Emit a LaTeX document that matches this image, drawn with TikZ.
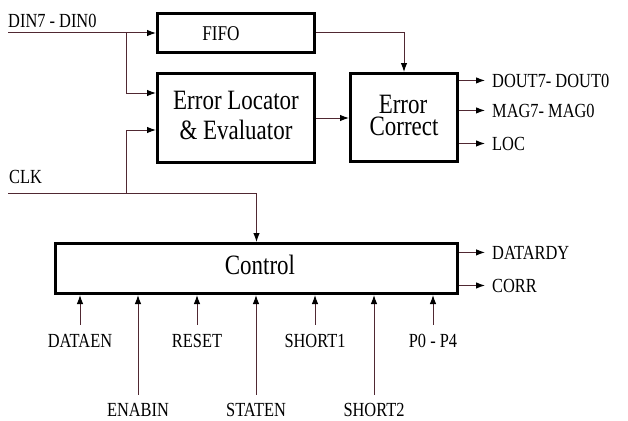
\documentclass[tikz,border=0pt]{standalone}
\usepackage{fontspec}
\setmainfont[FakeStretch=0.82]{Liberation Serif}
\usetikzlibrary{arrows.meta}
\definecolor{wire}{RGB}{80,40,50}
\begin{document}
\begin{tikzpicture}[x=1pt,y=-1pt,
  blk/.style={draw=black, line width=2.6pt, inner sep=0pt},
  wirearrow/.style={draw=wire, line width=1pt, -{Latex[length=9pt,width=6.5pt,color=black]}},
  lbl/.style={font=\fontsize{20}{24}\selectfont, inner sep=0pt},
  big/.style={font=\fontsize{28}{30}\selectfont, inner sep=0pt, align=center},
  bigtxt/.style={font=\fontsize{28}{30}\selectfont, inner sep=0pt, anchor=base}
]
\useasboundingbox (0,0) rectangle (628,420);

% boxes
\node[blk, minimum width=157.4pt, minimum height=39.4pt] (fifo) at (236,33) {};
\node[blk, minimum width=157.4pt, minimum height=89.4pt] (errloc) at (236,118) {};
\node[blk, minimum width=107.4pt, minimum height=88.4pt] (errcorr) at (404,117.5) {};
\node[blk, minimum width=402.4pt, minimum height=50.4pt] (ctrl) at (256.5,268.5) {};

% box texts
\node[font=\fontsize{21}{24}\selectfont, inner sep=0pt, anchor=base] (fifotxt) at (221,41) {FIFO};
\node[big] (errloctxt) at (236,115.75) {Error Locator\\ \& Evaluator};
\node[bigtxt] (errcorrtxta) at (403,113) {Error};
\node[bigtxt] (errcorrtxtb) at (404,135.5) {Correct};
\node[bigtxt] (ctrltxt) at (260,274) {Control};

% left labels
\node[lbl, anchor=base west] (dinlbl) at (8,28) {DIN7 - DIN0};
\node[lbl, anchor=base west] (clklbl) at (9,183) {CLK};

% output labels
\node[lbl, anchor=base west] (dout) at (492,87) {DOUT7- DOUT0};
\node[lbl, anchor=base west] (mag) at (492,117) {MAG7- MAG0};
\node[lbl, anchor=base west] (loc) at (492,150) {LOC};
\node[lbl, anchor=base west] (datardy) at (492,259) {DATARDY};
\node[lbl, anchor=base west] (corr) at (492,292) {CORR};

% bottom labels
\node[lbl, anchor=base] (dataen) at (80,347) {DATAEN};
\node[lbl, anchor=base] (reset) at (197,347) {RESET};
\node[lbl, anchor=base] (short1) at (315,347) {SHORT1};
\node[lbl, anchor=base] (pzero) at (433,347) {P0 - P4};
\node[lbl, anchor=base] (enabin) at (138,416) {ENABIN};
\node[lbl, anchor=base] (staten) at (256,416) {STATEN};
\node[lbl, anchor=base] (short2) at (374,416) {SHORT2};

% input wiring
\coordinate (dinstart) at (8,33);
\coordinate (dinbr) at (126,33);
\coordinate (clkstart) at (8,193);
\coordinate (clkbr) at (126,193);
\draw[wirearrow] (dinstart) -- (fifo.west);
\draw[wirearrow] (dinbr) |- ([yshift=25pt]errloc.west);
\draw[wirearrow] (clkstart) -| (ctrl.north);
\draw[wirearrow] (clkbr) |- ([yshift=-12pt]errloc.west);

% internal
\draw[wirearrow] (fifo.east) -| (errcorr.north);
\draw[wirearrow] (errloc.east) -- (errloc.east -| errcorr.west);

% outputs
\draw[wirearrow] (errcorr.east |- dout.west) -- ([xshift=-7pt]dout.west);
\draw[wirearrow] (errcorr.east |- mag.west) -- ([xshift=-7pt]mag.west);
\draw[wirearrow] (errcorr.east |- loc.west) -- ([xshift=-7pt]loc.west);
\draw[wirearrow] (ctrl.east |- datardy.west) -- ([xshift=-7pt]datardy.west);
\draw[wirearrow] (ctrl.east |- corr.west) -- ([xshift=-7pt]corr.west);

% control inputs
\foreach \n in {dataen,reset,short1,pzero}
  \draw[wirearrow] ([yshift=9pt]\n.north) -- (\n.north |- ctrl.south);
\foreach \n in {enabin,staten,short2}
  \draw[wirearrow] ([yshift=8pt]\n.north) -- (\n.north |- ctrl.south);
\end{tikzpicture}
\end{document}
